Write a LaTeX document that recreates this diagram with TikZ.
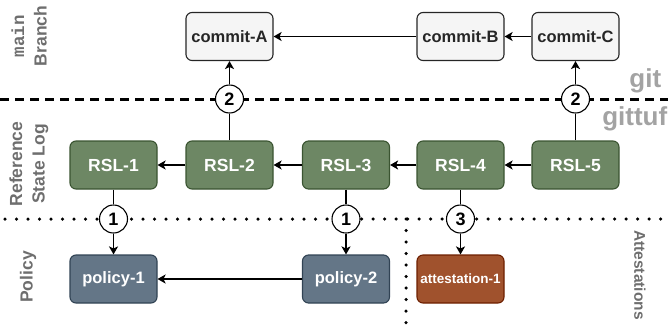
\documentclass[tikz,border=0pt]{standalone}
\usepackage{fontspec}
\setmainfont{Liberation Sans}
\setmonofont{Liberation Mono}
\usetikzlibrary{arrows.meta}
\definecolor{cgreen}{HTML}{6D8764}
\definecolor{cgreenline}{HTML}{3A5431}
\definecolor{cslate}{HTML}{647687}
\definecolor{cslateline}{HTML}{314354}
\definecolor{crust}{HTML}{A0522D}
\definecolor{crustline}{HTML}{6D1F00}
\definecolor{ccommit}{HTML}{F5F5F5}
\definecolor{clabel}{HTML}{6E6E6E}
\definecolor{clayer}{HTML}{A3A3A3}
\tikzset{
  every picture/.style={font=\bfseries, line width=1.5pt},
  box/.style={rounded corners=6pt, minimum width=87pt, minimum height=48pt, inner sep=1pt, line width=1.1pt, align=center},
  commit/.style={box, draw=black!85, fill=ccommit, text=black!85, font=\fontsize{16.5}{19}\selectfont\bfseries},
  rsl/.style={box, draw=cgreenline, fill=cgreen, text=white, font=\fontsize{17.5}{20}\selectfont\bfseries},
  policy/.style={box, draw=cslateline, fill=cslate, text=white, font=\fontsize{16.5}{19}\selectfont\bfseries},
  attest/.style={box, draw=crustline, fill=crust, text=white, font=\fontsize{13.5}{16}\selectfont\bfseries},
  badge/.style={circle, draw=black, fill=white, line width=1.1pt, minimum size=28pt, inner sep=0pt, font=\fontsize{18}{20}\selectfont\bfseries},
  arrow/.style={-{Stealth[length=8pt, width=9pt, inset=2pt]}, line width=1.5pt},
  sidelabel/.style={text=clabel, align=center, inner sep=0pt, font=\fontsize{17.5}{22.5}\selectfont\bfseries},
  layer/.style={text=clayer, inner sep=0pt, font=\fontsize{26}{30}\selectfont\bfseries},
  gitline/.style={line width=3pt, dash pattern=on 9pt off 6pt},
  dotline/.style={line width=3.5pt, line cap=round, dash pattern=on 0pt off 11.5pt},
}

\begin{document}
\begin{tikzpicture}[x=1pt, y=-1pt]
  \useasboundingbox (0,0) rectangle (668,327);
  % section dividers
  \draw[gitline] (0,99) -- (668,99);
  \draw[dotline] (5,219) -- (668,219);
  \draw[dotline] (406,219) -- (406,327);
  % side labels
  \node[sidelabel, rotate=90] (lblmain) at (29,36) {{\ttfamily main}\\Branch};
  \node[sidelabel, rotate=90] (lblrsl) at (29,164) {Reference\\State Log};
  \node[sidelabel, rotate=90] (lblpolicy) at (28,277) {Policy};
  \node[sidelabel, rotate=-90, font=\fontsize{15.5}{18}\selectfont\bfseries] (lblattest) at (640,275) {Attestations};
  \node[layer, anchor=base east] (lblgit) at (662,87) {git};
  \node[layer, anchor=base east] (lblgittuf) at (668,125) {gittuf};
  % main branch
  \node[commit] (commitA) at (229.5,36.5) {commit-A};
  \node[commit] (commitB) at (460.5,36.5) {commit-B};
  \node[commit] (commitC) at (575.5,36.5) {commit-C};
  % reference state log
  \node[rsl] (rsl1) at (113.5,165) {RSL-1};
  \node[rsl] (rsl2) at (229.5,165) {RSL-2};
  \node[rsl] (rsl3) at (346,165) {RSL-3};
  \node[rsl] (rsl4) at (460.5,165) {RSL-4};
  \node[rsl] (rsl5) at (575.5,165) {RSL-5};
  % policy and attestations
  \node[policy] (policy1) at (113.5,279) {policy-1};
  \node[policy] (policy2) at (346,279) {policy-2};
  \node[attest] (attest1) at (460.5,279) {attestation-1};
  % numbered links
  \node[badge] (b2a) at (229.5,99) {2};
  \node[badge] (b2b) at (575.5,99) {2};
  \node[badge] (b1a) at (113.5,219) {1};
  \node[badge] (b1b) at (346,219) {1};
  \node[badge] (b3) at (460.5,219) {3};
  % chains
  \draw[arrow] (commitB) -- (commitA);
  \draw[arrow] (commitC) -- (commitB);
  \draw[arrow] (rsl2) -- (rsl1);
  \draw[arrow] (rsl3) -- (rsl2);
  \draw[arrow] (rsl4) -- (rsl3);
  \draw[arrow] (rsl5) -- (rsl4);
  \draw[arrow] (policy2) -- (policy1);
  % cross-layer links
  \draw (rsl2) -- (b2a);
  \draw[arrow] (b2a) -- (commitA);
  \draw (rsl5) -- (b2b);
  \draw[arrow] (b2b) -- (commitC);
  \draw (rsl1) -- (b1a);
  \draw[arrow] (b1a) -- (policy1);
  \draw (rsl3) -- (b1b);
  \draw[arrow] (b1b) -- (policy2);
  \draw (rsl4) -- (b3);
  \draw[arrow] (b3) -- (attest1);
\end{tikzpicture}
\end{document}
